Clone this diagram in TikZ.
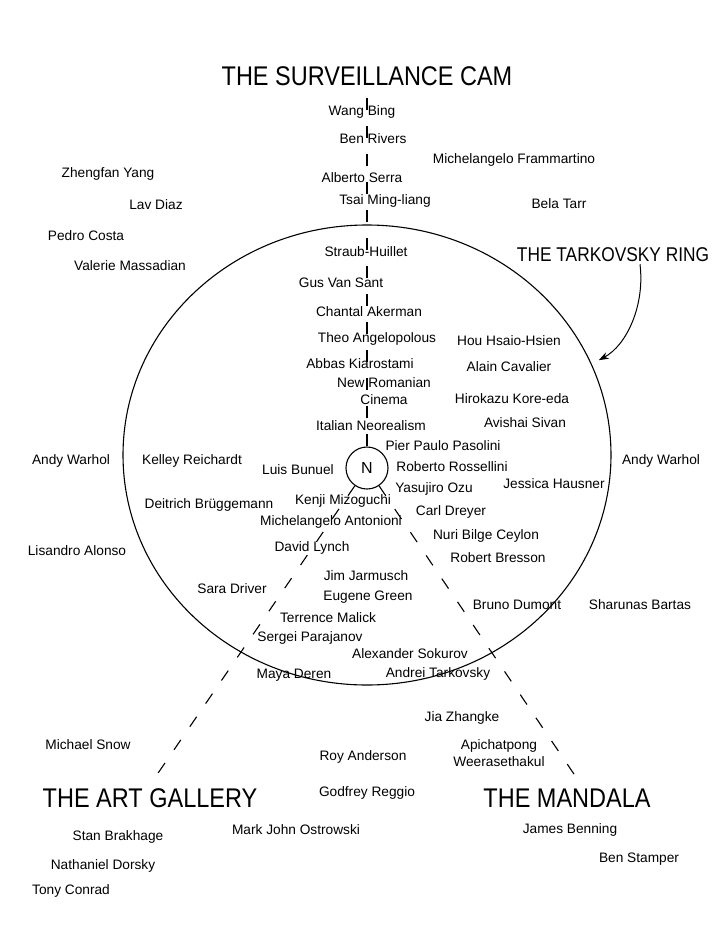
\documentclass[tikz,border=0pt]{standalone}
\usepackage{fontspec}
\setmainfont{Liberation Sans}
\newfontfamily\headfont[FakeStretch=0.87]{Liberation Sans}
\usetikzlibrary{shapes.geometric, arrows.meta}

\tikzset{
	maker/.style={font=\fontsize{13.7}{17}\selectfont, inner sep=1pt, align=center},
	school/.style={font=\headfont\fontsize{27}{28}\selectfont, inner sep=2pt},
	spoke/.style={line width=1.1pt, dash pattern=on 12pt off 16pt},
}

\begin{document}
\begin{tikzpicture}[x=1pt, y=-1pt]
			\useasboundingbox (0,0) rectangle (725,938);
			\fill [white] (0,0) rectangle (725,938);

			\node (tring) [draw, ellipse, line width=1.1pt, minimum width=488pt, minimum height=460pt, inner sep=0pt] at (367,455) {};
			\node (nexus) [draw, circle, line width=1.1pt, minimum size=42pt, inner sep=0pt, font=\fontsize{16}{16}\selectfont] at (367,468) {N};

			\node (cam) [school] at (367,76) {THE SURVEILLANCE CAM};
			\node (gallery) [school] at (150,798) {THE ART GALLERY};
			\node (mandala) [school] at (567,798) {THE MANDALA};
			\node (ring) [school, font=\headfont\fontsize{19.9}{20}\selectfont] at (613,255) {THE TARKOVSKY RING};

			\node (wang) [maker] at (362,112) {Wang Bing};
			\node (rivers) [maker] at (373,139) {Ben Rivers};
			\node (serra) [maker] at (362,178) {Alberto Serra};
			\node (tsai) [maker] at (385,201) {Tsai Ming-liang};
			\node (frammartino) [maker] at (514,160) {Michelangelo Frammartino};
			\node (zhengfan) [maker] at (108,174) {Zhengfan Yang};
			\node (lavdiaz) [maker] at (156,205) {Lav Diaz};
			\node (costa) [maker] at (86,236) {Pedro Costa};
			\node (massadian) [maker] at (130,266) {Valerie Massadian};
			\node (tarr) [maker] at (559,204) {Bela Tarr};

			\node (straub) [maker] at (366,252) {Straub-Huillet};
			\node (vansant) [maker] at (341,283) {Gus Van Sant};
			\node (akerman) [maker] at (369,312) {Chantal Akerman};
			\node (angelopolous) [maker] at (377,339) {Theo Angelopolous};
			\node (kiarostami) [maker] at (360,364) {Abbas Kiarostami};
			\node (romanian) [maker] at (384,391) {New Romanian\\Cinema};
			\node (neorealism) [maker] at (371,426) {Italian Neorealism};
			\node (hou) [maker] at (509,341) {Hou Hsaio-Hsien};
			\node (cavalier) [maker] at (509,367) {Alain Cavalier};
			\node (koreeda) [maker] at (512,399) {Hirokazu Kore-eda};
			\node (sivan) [maker] at (525,423) {Avishai Sivan};
			\node (pasolini) [maker] at (443,446) {Pier Paulo Pasolini};
			\node (rossellini) [maker] at (452,467) {Roberto Rossellini};
			\node (hausner) [maker] at (554,484) {Jessica Hausner};
			\node (ozu) [maker] at (434,489) {Yasujiro Ozu};
			\node (dreyer) [maker] at (451,512) {Carl Dreyer};
			\node (ceylon) [maker] at (486,536) {Nuri Bilge Ceylon};
			\node (bresson) [maker] at (498,558) {Robert Bresson};
			\node (dumont) [maker] at (517,605) {Bruno Dumont};
			\node (sokurov) [maker] at (410,654) {Alexander Sokurov};
			\node (tarkovsky) [maker] at (438,674) {Andrei Tarkovsky};
			\node (jarmusch) [maker] at (366,576) {Jim Jarmusch};
			\node (green) [maker] at (368,597) {Eugene Green};
			\node (malick) [maker] at (328,618) {Terrence Malick};
			\node (parajanov) [maker] at (310,638) {Sergei Parajanov};
			\node (deren) [maker] at (294,675) {Maya Deren};
			\node (driver) [maker] at (232,589) {Sara Driver};
			\node (lynch) [maker] at (312,548) {David Lynch};
			\node (antonioni) [maker] at (331,522) {Michelangelo Antonioni};
			\node (mizoguchi) [maker] at (343,501) {Kenji Mizoguchi};
			\node (bruggemann) [maker] at (209,505) {Deitrich Brüggemann};
			\node (bunuel) [maker] at (298,470) {Luis Bunuel};
			\node (reichardt) [maker] at (192,461) {Kelley Reichardt};

			\node (warholleft) [maker] at (71,461) {Andy Warhol};
			\node (warholright) [maker] at (661,461) {Andy Warhol};
			\node (alonso) [maker] at (77,551) {Lisandro Alonso};
			\node (bartas) [maker] at (640,605) {Sharunas Bartas};
			\node (jia) [maker] at (462,718) {Jia Zhangke};
			\node (apichatpong) [maker] at (499,753) {Apichatpong\\Weerasethakul};
			\node (anderson) [maker] at (363,757) {Roy Anderson};
			\node (reggio) [maker] at (367,793) {Godfrey Reggio};
			\node (ostrowski) [maker] at (296,830) {Mark John Ostrowski};
			\node (snow) [maker] at (88,745) {Michael Snow};
			\node (brakhage) [maker] at (118,837) {Stan Brakhage};
			\node (dorsky) [maker] at (103,866) {Nathaniel Dorsky};
			\node (conrad) [maker] at (71,891) {Tony Conrad};
			\node (benning) [maker] at (570,830) {James Benning};
			\node (stamper) [maker] at (639,859) {Ben Stamper};

			\coordinate (galleryfoot) at (154,779);
			\coordinate (mandalafoot) at (578,780);
			\draw [spoke] (nexus) -- ([yshift=-5pt]cam.south);
			\draw [spoke] (nexus) -- (galleryfoot);
			\draw [spoke] (nexus) -- (mandalafoot);

			\draw [-{Stealth[length=10pt, width=7pt]}, line width=1pt] ([xshift=27pt]ring.south) .. controls (645,305) and (627,345) .. ([shift={(7pt,4pt)}]tring.22);
\end{tikzpicture}
\end{document}
